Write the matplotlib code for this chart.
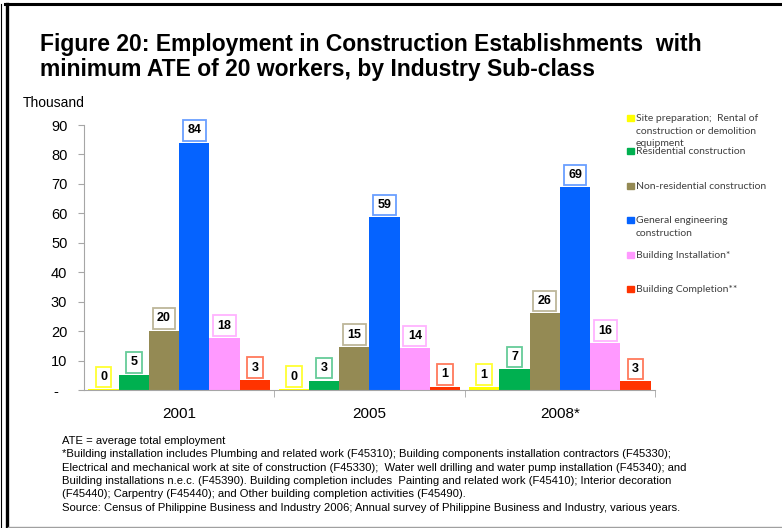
import matplotlib.pyplot as plt
import numpy as np
from matplotlib.lines import Line2D
from matplotlib.patches import Rectangle

# employment (thousand) by sub-class, per census/survey year
years = ['2001', '2005', '2008*']
site_prep = [0.2, 0.3, 0.9]
residential = [5.1, 3.2, 7.0]
non_residential = [20.1, 14.6, 26.0]
general_eng = [83.9, 58.6, 68.8]
bldg_install = [17.6, 14.1, 15.9]
bldg_complete = [3.3, 1.1, 2.9]

series = [site_prep, residential, non_residential, general_eng, bldg_install, bldg_complete]
names = ['Site preparation;  Rental of\nconstruction or demolition\nequipment',
         'Residential construction',
         'Non-residential construction',
         'General engineering\nconstruction',
         'Building Installation*',
         'Building Completion**']
colors = ['#FFFF00', '#00B050', '#948A54', '#0563FF', '#FF99FF', '#FF3300']
edges = ['#FFFF33', '#66CC99', '#BDB69A', '#6A9FFF', '#FFB3FF', '#FF7A5C']

W, H = 782, 528
fig = plt.figure(figsize=(W / 100, H / 100), dpi=100)
plt.rcParams['font.family'] = ['Liberation Sans', 'DejaVu Sans']

def fx(px):
    return px / W

def fy(py):
    return 1 - py / H

ax = fig.add_axes([fx(84), fy(390), fx(655) - fx(84), fy(125) - fy(390)])

x = np.arange(len(years))
bw = 0.159
for i, (vals, c, ec) in enumerate(zip(series, colors, edges)):
    pos = x + (i - 2.5) * bw
    ax.bar(pos, vals, width=bw, color=c, linewidth=0)
    for xp, v in zip(pos, vals):
        ax.annotate('%.0f' % v, (xp, v), xytext=(0, 9), textcoords='offset points',
                    ha='center', va='center', fontsize=9, fontweight='bold', color='black',
                    bbox=dict(boxstyle='square,pad=0.35', fc='white', ec=ec, lw=1.3))

ax.set_xlim(-0.5, 2.5)
ax.set_ylim(0, 90)
ax.set_yticks(range(0, 91, 10))
ax.set_yticklabels(['-  '] + [str(v) for v in range(10, 91, 10)], fontsize=10.5)
ax.set_xticks(x)
ax.set_xticklabels(years, fontsize=11)
ax.set_xticks([0.5, 1.5, 2.5], minor=True)
ax.tick_params(axis='x', which='major', length=0, pad=12)
ax.tick_params(axis='x', which='minor', length=5, color='#A6A6A6')
ax.tick_params(axis='y', length=4, color='#A6A6A6', pad=8)
for s in ['top', 'right']:
    ax.spines[s].set_visible(False)
for s in ['left', 'bottom']:
    ax.spines[s].set_color('#A6A6A6')

fig.text(fx(23), fy(103), 'Thousand', fontsize=10, va='center', ha='left')
fig.text(fx(40), fy(57), 'Figure 20: Employment in Construction Establishments  with\n'
         'minimum ATE of 20 workers, by Industry Sub-class',
         fontsize=16.5, fontweight='bold', va='center', ha='left', linespacing=1.08)

# legend drawn by hand, items are spaced unevenly
leg_y = [118, 151, 186, 220, 255, 289]
for name, c, y in zip(names, colors, leg_y):
    fig.patches.append(Rectangle((fx(627), fy(y + 3)), fx(7), 6 / H, color=c,
                                 transform=fig.transFigure))
    fig.text(fx(636), fy(y - 4), name, fontsize=7.5, family=['Lato', 'DejaVu Sans'],
             color='#404040', va='top', ha='left', linespacing=1.5)

notes = ('ATE = average total employment\n'
         '*Building installation includes Plumbing and related work (F45310); Building components installation contractors (F45330);\n'
         'Electrical and mechanical work at site of construction (F45330);  Water well drilling and water pump installation (F45340); and\n'
         'Building installations n.e.c. (F45390). Building completion includes  Painting and related work (F45410); Interior decoration\n'
         '(F45440); Carpentry (F45440); and Other building completion activities (F45490).\n'
         'Source: Census of Philippine Business and Industry 2006; Annual survey of Philippine Business and Industry, various years.')
fig.text(fx(62), fy(436), notes, fontsize=8.1, va='top', ha='left', linespacing=1.42)

# page frame
fig.add_artist(Line2D([fx(5), 1], [fy(4), fy(4)], color='black', lw=2.2, transform=fig.transFigure))
fig.add_artist(Line2D([fx(6.5), fx(6.5)], [0, fy(4)], color='black', lw=2.4, transform=fig.transFigure))
fig.add_artist(Line2D([fx(1), fx(1)], [0, fy(4)], color='black', lw=0.8, transform=fig.transFigure))
fig.add_artist(Line2D([fx(8), 1], [fy(526.5), fy(526.5)], color='#A0A0A0', lw=1, transform=fig.transFigure))

fig.savefig('out.png', dpi=100)
